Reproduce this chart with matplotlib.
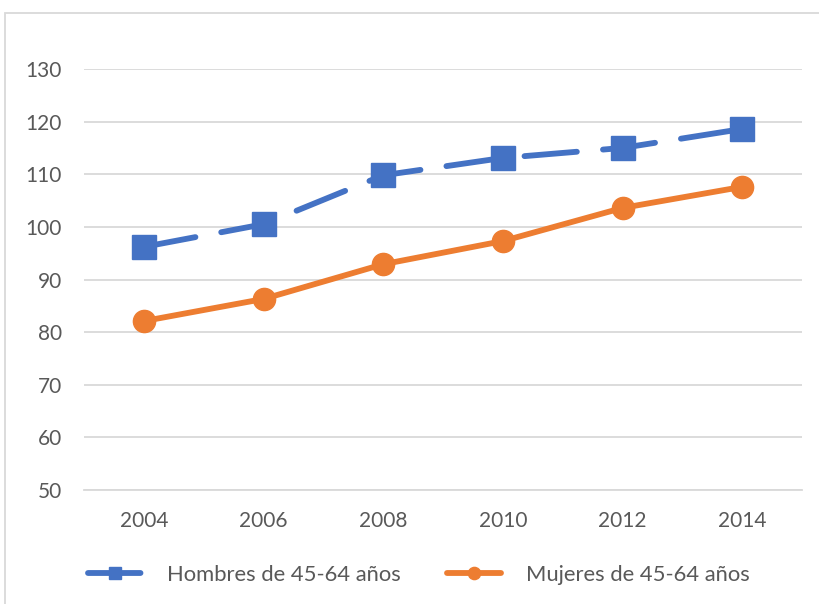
import matplotlib
matplotlib.use("Agg")
import matplotlib.pyplot as plt
from matplotlib.patches import Rectangle

years = ["2004", "2006", "2008", "2010", "2012", "2014"]
hombres = [96.2, 100.5, 109.8, 113.1, 115.0, 118.6]
mujeres = [82.1, 86.3, 92.9, 97.3, 103.6, 107.6]
yticks = [50, 60, 70, 80, 90, 100, 110, 120, 130]

plt.rcParams['font.family'] = ['Lato', 'DejaVu Sans']

fig = plt.figure(figsize=(8.19, 6.04), dpi=100)
W, H = 819, 604
ax = fig.add_axes([84 / W, 1 - 490 / H, (802 - 84) / W, (490 - 69) / H])

x = list(range(len(years)))
ax.plot(x, hombres, color='#4472C4', lw=4.2, ls=(0, (9, 4.5)), dash_capstyle='round',
        marker='s', ms=17, mfc='#4472C4', mec='#4472C4', label='Hombres de 45-64 años')
ax.plot(x, mujeres, color='#ED7D31', lw=4.2, solid_capstyle='round',
        marker='o', ms=16, mfc='#ED7D31', mec='#ED7D31', label='Mujeres de 45-64 años')

ax.set_xlim(-0.5, len(years) - 0.5)
ax.set_ylim(50, 130)
ax.set_yticks(yticks)
ax.set_xticks(x)
ax.set_xticklabels(years)
ax.grid(axis='y', color='#D9D9D9', lw=1.3)
ax.set_axisbelow(True)
for s in ['top', 'right', 'left']:
    ax.spines[s].set_visible(False)
ax.spines['bottom'].set_color('#D9D9D9')
ax.spines['bottom'].set_linewidth(1.3)
ax.tick_params(axis='both', length=0, labelsize=15, labelcolor='#595959')
ax.tick_params(axis='y', pad=16)
ax.tick_params(axis='x', pad=15)

leg = fig.legend(loc='center left', bbox_to_anchor=(68 / W, 1 - 575 / H), ncol=2, frameon=False,
                 fontsize=15.8, handlelength=2.5, columnspacing=2.1, handletextpad=1.1,
                 markerscale=0.55)
for t in leg.get_texts():
    t.set_color('#595959')

fig.patches.append(Rectangle((5 / W, -0.1), 1.2, 1 - 13 / H + 0.1, transform=fig.transFigure,
                             fill=False, edgecolor='#D9D9D9', lw=1.3))

fig.savefig('out.png', dpi=100)
